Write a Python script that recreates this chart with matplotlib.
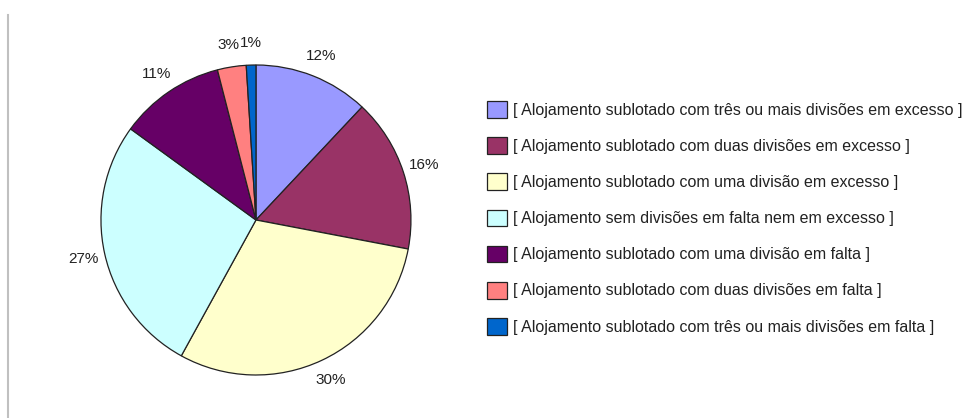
import matplotlib.pyplot as plt
from matplotlib.lines import Line2D

plt.rcParams['font.family'] = ['Liberation Sans', 'DejaVu Sans']

categories = [
    "[ Alojamento sublotado com três ou mais divisões em excesso ]",
    "[ Alojamento sublotado com duas divisões em excesso ]",
    "[ Alojamento sublotado com uma divisão em excesso ]",
    "[ Alojamento sem divisões em falta nem em excesso ]",
    "[ Alojamento sublotado com uma divisão em falta ]",
    "[ Alojamento sublotado com duas divisões em falta ]",
    "[ Alojamento sublotado com três ou mais divisões em falta ]",
]
shares = [12, 16, 30, 27, 11, 3, 1]
colors = ['#9999FF', '#993366', '#FFFFCC', '#CCFFFF', '#660066', '#FF8080', '#0066CC']

fig = plt.figure(figsize=(9.67, 4.18), dpi=100)
ax = fig.add_axes([0.1044, 0.1029, 0.3206, 0.7416])

wedges, texts, pcts = ax.pie(
    shares, colors=colors, startangle=90, counterclock=False,
    autopct='%1.0f%%', pctdistance=1.14,
    wedgeprops=dict(edgecolor='#222222', linewidth=0.9),
    textprops=dict(fontsize=11, color='#222222'),
)
ax.set_xlim(-1, 1)
ax.set_ylim(-1, 1)
ax.set_aspect('equal')

fig.legend(
    wedges, categories, loc='center left', bbox_to_anchor=(0.5036, 0.4785),
    frameon=False, fontsize=11.5, handlelength=1.25, handleheight=1.25,
    handletextpad=0.4, labelspacing=1.2, borderpad=0, borderaxespad=0,
    labelcolor='#222222',
)

# thin grey rule on the left edge
fig.add_artist(Line2D([0.0083, 0.0083], [0.0, 0.965], color='#c0c0c0', linewidth=1.5))

fig.savefig('out.png', dpi=100)
